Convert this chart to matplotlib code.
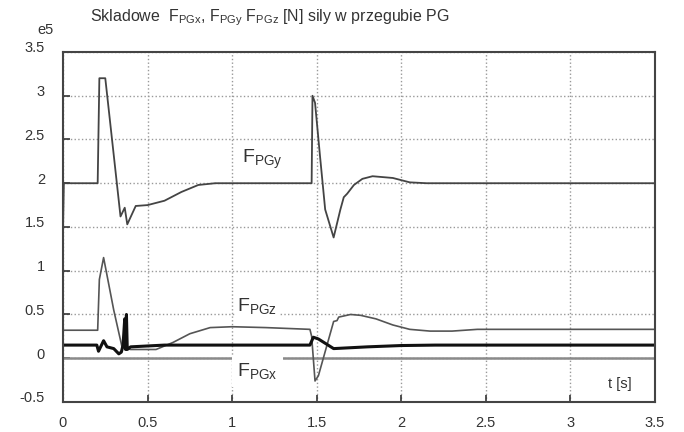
import matplotlib.pyplot as plt
import matplotlib.transforms as mtransforms

plt.rcParams['font.family'] = ['Liberation Sans', 'DejaVu Sans']
plt.rcParams['mathtext.fontset'] = 'custom'
plt.rcParams['mathtext.rm'] = 'Liberation Sans'
plt.rcParams['mathtext.it'] = 'Liberation Sans'

# values in units of 1e5 N
t_y = [0, 0.005, 0.205, 0.215, 0.25, 0.34, 0.365, 0.38, 0.43, 0.5, 0.6, 0.7, 0.8, 0.9,
       1.47, 1.475, 1.49, 1.52, 1.55, 1.6, 1.64, 1.66, 1.68, 1.72, 1.77, 1.83, 1.95, 2.05, 2.15, 3.5]
f_y = [1.45, 2.0, 2.0, 3.2, 3.2, 1.62, 1.72, 1.53, 1.74, 1.75, 1.8, 1.9, 1.98, 2.0,
       2.0, 3.0, 2.92, 2.3, 1.7, 1.38, 1.7, 1.84, 1.88, 1.98, 2.05, 2.08, 2.06, 2.01, 2.0, 2.0]

t_z = [0, 0.205, 0.215, 0.24, 0.26, 0.3, 0.35, 0.4, 0.55, 0.65, 0.75, 0.87, 1.0, 1.2,
       1.46, 1.47, 1.49, 1.51, 1.6, 1.62, 1.63, 1.7, 1.76, 1.85, 1.95, 2.05, 2.17, 2.3, 2.45, 3.5]
f_z = [0.32, 0.32, 0.9, 1.15, 0.95, 0.55, 0.12, 0.1, 0.1, 0.18, 0.28, 0.35, 0.36, 0.35,
       0.33, 0.25, -0.26, -0.2, 0.42, 0.43, 0.47, 0.5, 0.49, 0.45, 0.38, 0.33, 0.31, 0.31, 0.33, 0.33]

t_x = [0, 0.2, 0.21, 0.225, 0.24, 0.26, 0.3, 0.33, 0.345, 0.355, 0.365, 0.37, 0.375, 0.38,
       0.4, 0.6, 1.46, 1.48, 1.51, 1.6, 1.8, 2.0, 2.2, 3.5]
f_x = [0.15, 0.15, 0.08, 0.14, 0.2, 0.13, 0.11, 0.05, 0.07, 0.15, 0.45, 0.1, 0.5, 0.1,
       0.13, 0.15, 0.15, 0.24, 0.22, 0.11, 0.13, 0.145, 0.15, 0.15]

t_0 = [0, 3.5]
f_0 = [0, 0]

xticks = [0, 0.5, 1, 1.5, 2, 2.5, 3, 3.5]
yticks = [-0.5, 0, 0.5, 1, 1.5, 2, 2.5, 3, 3.5]

fig = plt.figure(figsize=(6.84, 4.32), dpi=100)
ax = fig.add_axes([0.0921, 0.0695, 0.8655, 0.8102])

ax.plot(t_0, f_0, color='#8a8a8a', lw=1.8)
ax.plot(t_z, f_z, color='#555555', lw=1.2)
ax.plot(t_y, f_y, color='#444444', lw=1.3)
ax.plot(t_x, f_x, color='#111111', lw=2.2)

ax.set_xlim(0, 3.5)
ax.set_ylim(-0.5, 3.5)
ax.set_xticks(xticks)
ax.set_yticks(yticks)
ax.set_xticklabels([f'{v:g}' for v in xticks])
ax.set_yticklabels([f'{v:g}' for v in yticks])
ax.grid(True, linestyle=':', color='#999999', lw=1.0)
ax.tick_params(direction='in', length=5, colors='#333333', labelsize=10.5, width=1.2)
ax.tick_params(axis='x', pad=10)
ax.tick_params(axis='y', pad=13)
for s in ax.spines.values():
    s.set_color('#444444')
    s.set_linewidth(1.5)

# y tick labels sit a bit above their ticks in the original
up = mtransforms.ScaledTranslation(0, 5 / 100, fig.dpi_scale_trans)
for lab in ax.get_yticklabels():
    lab.set_transform(lab.get_transform() + up)

bb = dict(facecolor='white', edgecolor='none', pad=1)
ax.text(1.06, 2.27, r'$\mathrm{F}_{\mathrm{PGy}}$', fontsize=14, color='#333333', va='center')
ax.text(1.03, 0.6, r'$\mathrm{F}_{\mathrm{PGz}}$', fontsize=14, color='#333333', va='center', bbox=bb)
ax.text(1.03, -0.15, r'$\mathrm{F}_{\mathrm{PGx}}$', fontsize=14, color='#333333', va='center',
        bbox=dict(facecolor='white', edgecolor='none', pad=4))
ax.text(3.22, -0.3, 't [s]', fontsize=10.5, color='#333333', va='center')

fig.text(0.395, 0.958, r'Skladowe  $\mathrm{F}_{\mathrm{PGx}}$, $\mathrm{F}_{\mathrm{PGy}}$ $\mathrm{F}_{\mathrm{PGz}}$ [N] sily w przegubie PG',
         ha='center', va='center', fontsize=11.5, color='#333333')
fig.text(0.054, 0.93, 'e5', fontsize=10.5, color='#333333', va='center')

fig.savefig('out.png')
